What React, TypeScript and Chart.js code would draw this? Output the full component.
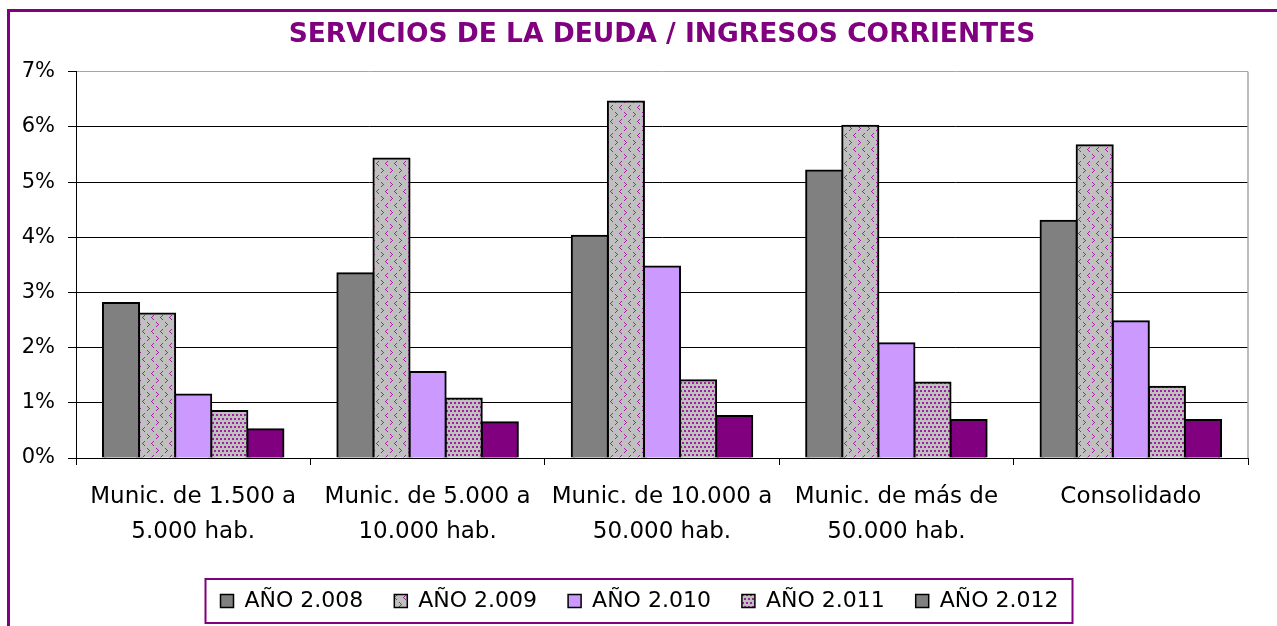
import React, { useEffect, useRef } from "react";
import { Chart, registerables } from "chart.js";

Chart.register(...registerables);

const categories: (string | string[])[] = [
  ["Munic. de 1.500 a", "5.000 hab."],
  ["Munic. de 5.000 a", "10.000 hab."],
  ["Munic. de 10.000 a", "50.000 hab."],
  ["Munic. de más de", "50.000 hab."],
  "Consolidado",
];

const seriesNames = ["AÑO 2.008", "AÑO 2.009", "AÑO 2.010", "AÑO 2.011", "AÑO 2.012"];

const values2008 = [2.81, 3.35, 4.03, 5.21, 4.3];
const values2009 = [2.62, 5.43, 6.46, 6.02, 5.67];
const values2010 = [1.15, 1.56, 3.47, 2.08, 2.48];
const values2011 = [0.85, 1.08, 1.41, 1.37, 1.29];
const values2012 = [0.52, 0.65, 0.76, 0.69, 0.69];

const yMin = 0;
const yMax = 7;
const yStep = 1;

const TITLE = "SERVICIOS DE LA DEUDA / INGRESOS CORRIENTES";
const FONT = "'DejaVu Sans', sans-serif";
const PURPLE = "#800080";
const MARK = "#a020a0";

function makeChevronPattern(): CanvasPattern | string {
  const c = document.createElement("canvas");
  c.width = 9;
  c.height = 14;
  const g = c.getContext("2d");
  if (!g) return "#c0c0c0";
  g.fillStyle = "#c0c0c0";
  g.fillRect(0, 0, 9, 14);
  g.fillStyle = MARK;
  // ">"
  g.fillRect(1, 1, 1, 1);
  g.fillRect(2, 2, 1, 1);
  g.fillRect(3, 3, 1, 1);
  g.fillRect(2, 4, 1, 1);
  g.fillRect(1, 5, 1, 1);
  // "<"
  g.fillRect(7, 8, 1, 1);
  g.fillRect(6, 9, 1, 1);
  g.fillRect(5, 10, 1, 1);
  g.fillRect(6, 11, 1, 1);
  g.fillRect(7, 12, 1, 1);
  return g.createPattern(c, "repeat") || "#c0c0c0";
}

function makeDotPattern(): CanvasPattern | string {
  const c = document.createElement("canvas");
  c.width = 8;
  c.height = 8;
  const g = c.getContext("2d");
  if (!g) return "#c0c0c0";
  g.fillStyle = "#c0c0c0";
  g.fillRect(0, 0, 8, 8);
  g.fillStyle = MARK;
  g.fillRect(1, 1, 2, 2);
  g.fillRect(5, 1, 2, 2);
  g.fillRect(3, 5, 2, 2);
  g.fillRect(7, 5, 1, 2);
  g.fillRect(0, 5, 1, 2);
  return g.createPattern(c, "repeat") || "#c0c0c0";
}

const framePlugin = {
  id: "frame",
  beforeDatasetsDraw(chart: any) {
    const { ctx, chartArea: a } = chart;
    ctx.save();
    ctx.strokeStyle = "#a6a6a6";
    ctx.lineWidth = 1.5;
    ctx.beginPath();
    ctx.moveTo(a.right, a.top);
    ctx.lineTo(a.right, a.bottom);
    ctx.stroke();
    ctx.restore();
  },
  afterDraw(chart: any) {
    const lg = chart.legend;
    if (!lg || !lg.legendHitBoxes || !lg.legendHitBoxes.length) return;
    const hb = lg.legendHitBoxes;
    const first = hb[0];
    const last = hb[hb.length - 1];
    const cy = first.top + first.height / 2;
    const left = first.left - 15;
    const right = last.left + last.width + 14;
    const { ctx } = chart;
    ctx.save();
    ctx.strokeStyle = PURPLE;
    ctx.lineWidth = 2;
    ctx.strokeRect(left, cy - 22, right - left, 44);
    ctx.restore();
  },
};

export default function App() {
  const ref = useRef<HTMLCanvasElement | null>(null);

  useEffect(() => {
    if (!ref.current) return;
    const chevron = makeChevronPattern();
    const dots = makeDotPattern();
    const fills: any[] = ["#808080", chevron, "#cc99ff", dots, PURPLE];
    const legendFills: any[] = ["#808080", chevron, "#cc99ff", dots, "#808080"];
    const series = [values2008, values2009, values2010, values2011, values2012];

    const chart = new Chart(ref.current, {
      type: "bar",
      data: {
        labels: categories,
        datasets: series.map((vals, i) => ({
          label: seriesNames[i],
          data: vals,
          backgroundColor: fills[i],
          borderColor: "#000",
          borderWidth: 2,
          borderSkipped: "start" as const,
          inflateAmount: 1,
          categoryPercentage: 0.77,
          barPercentage: 1,
        })),
      },
      options: {
        responsive: false,
        animation: false,
        layout: { padding: { bottom: 4 } },
        plugins: {
          title: {
            display: true,
            text: TITLE,
            color: PURPLE,
            fullSize: false,
            font: { family: FONT, size: 26.5, weight: "bold" },
            padding: { top: 6, bottom: 21 },
          },
          legend: {
            position: "bottom",
            labels: {
              color: "#000",
              font: { family: FONT, size: 22 },
              boxWidth: 13,
              boxHeight: 13,
              padding: 31,
              generateLabels: (c: any) => {
                const items = Chart.defaults.plugins.legend.labels.generateLabels(c);
                items.forEach((it: any, i: number) => {
                  it.fillStyle = legendFills[i];
                  it.strokeStyle = "#000";
                  it.lineWidth = 1.5;
                });
                return items;
              },
            },
          },
          tooltip: { enabled: false },
        },
        scales: {
          x: {
            offset: true,
            grid: {
              display: true,
              drawOnChartArea: false,
              drawTicks: true,
              tickLength: 7,
              color: "#000",
              offset: true,
            },
            border: { display: true, color: "#000", width: 1 },
            ticks: {
              color: "#000",
              font: { family: FONT, size: 23, lineHeight: 1.52 },
              padding: 15,
              maxRotation: 0,
              autoSkip: false,
            },
            afterFit: (s: any) => {
              s.height = 101;
            },
          },
          y: {
            min: yMin,
            max: yMax,
            grid: {
              color: (ctx: any) => (ctx.tick && ctx.tick.value === yMax ? "#a6a6a6" : "#000"),
              tickColor: "#000",
              tickLength: 8,
              lineWidth: 1,
            },
            border: { display: true, color: "#000", width: 1 },
            ticks: {
              stepSize: yStep,
              color: "#000",
              font: { family: FONT, size: 21 },
              padding: 13,
              callback: (v: any) => `${v}%`,
            },
            afterFit: (s: any) => {
              s.width = 65;
            },
          },
          yRight: {
            type: "linear",
            position: "right",
            display: true,
            grid: { display: false, drawTicks: false },
            border: { display: false },
            ticks: { display: false },
            afterFit: (s: any) => {
              s.width = 20;
            },
          },
        },
      },
      plugins: [framePlugin],
    } as any);

    return () => chart.destroy();
  }, []);

  return (
    <div style={{ position: "fixed", left: 0, top: 0, width: 1277, height: 626, overflow: "hidden", background: "#fff" }}>
      <div
        style={{
          position: "absolute",
          left: 7,
          top: 9,
          width: 1320,
          height: 700,
          border: `3px solid ${PURPLE}`,
          boxSizing: "border-box",
        }}
      />
      <canvas
        ref={ref}
        width={1257}
        height={613}
        style={{ position: "absolute", left: 11, top: 13, width: 1257, height: 613 }}
      />
    </div>
  );
}
